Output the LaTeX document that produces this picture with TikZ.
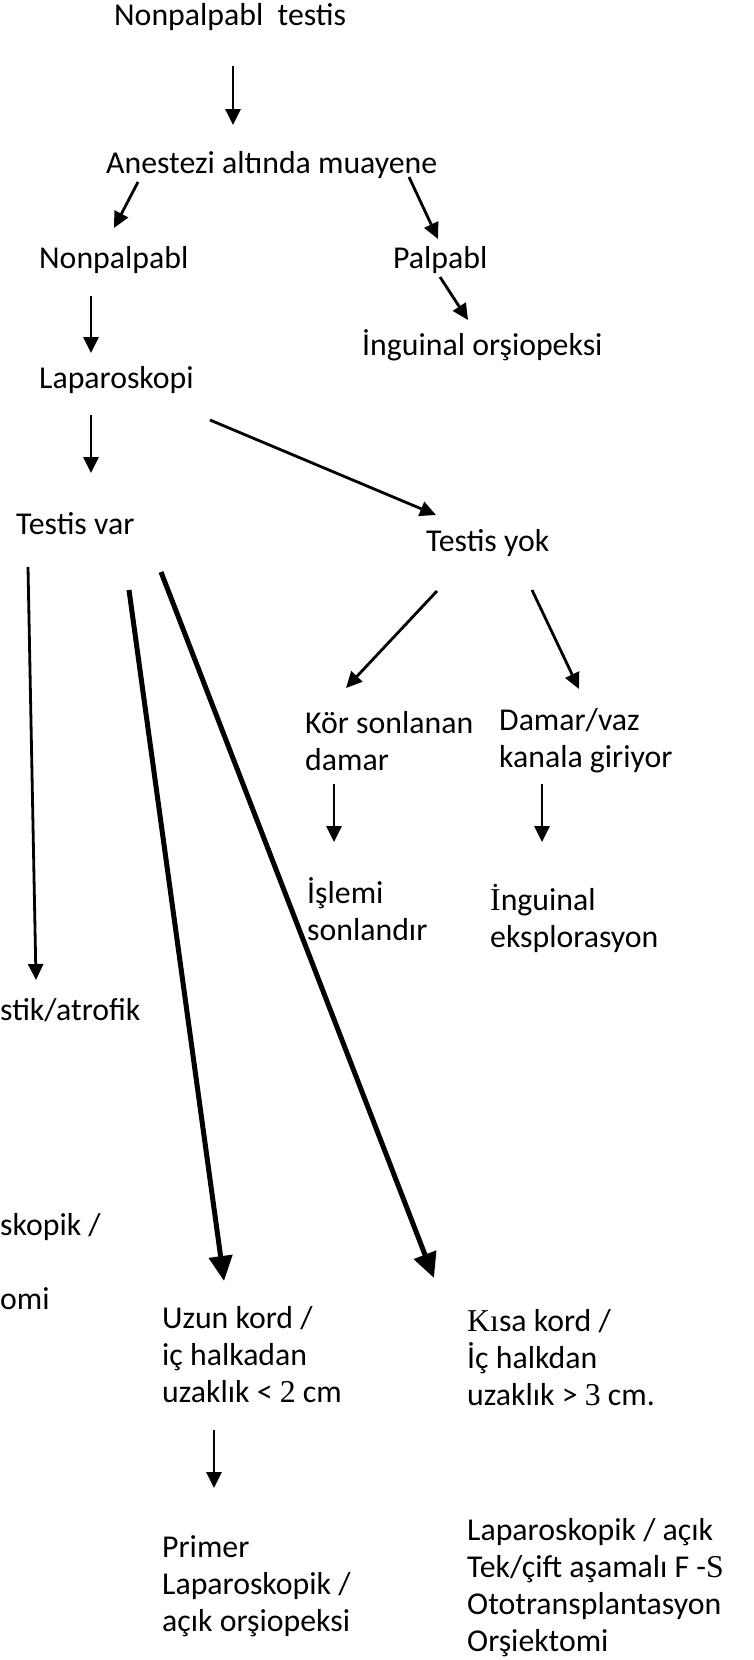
\documentclass[tikz,border=0pt]{standalone}
\usepackage{fontspec}
\setmainfont{Carlito}
\newfontfamily\tnr{Liberation Serif}
\usetikzlibrary{arrows.meta}
\begin{document}
\begin{tikzpicture}[x=1pt,y=-1pt,
  lbl/.style={anchor=west,inner sep=0pt,align=left,font=\fontsize{31.8}{37}\selectfont},
  thinarrow/.style={line width=2.8pt,-{Triangle[length=16pt,width=15pt]}},
  boldarrow/.style={line width=5pt,-{Triangle[length=25pt,width=23pt]}}]
\fill[white] (0,0) rectangle (753,1660);
\useasboundingbox (0,0) rectangle (753,1660);

% texts
\node[lbl] (top) at (114,17) {Nonpalpabl\ \ testis};
\node[lbl] (anes) at (106,165) {Anestezi altında muayene};
\node[lbl] (nonp) at (39,260) {Nonpalpabl};
\node[lbl] (palp) at (393,260) {Palpabl};
\node[lbl] (ingor) at (362,345) {İnguinal orşiopeksi};
\node[lbl] (lapa) at (39,380) {Laparoskopi};
\node[lbl] (tvar) at (16,524) {Testis var};
\node[lbl] (tyok) at (426,543) {Testis yok};
\node[lbl] (kor) at (305,741) {Kör sonlanan\\damar};
\node[lbl] (damar) at (499,741) {Damar/vaz\\kanala giriyor};
\node[lbl] (islemi) at (307,909) {İşlemi\\sonlandır};
\node[lbl] (ingex) at (490,918) {{\tnr İ}nguinal\\eksplorasyon};
\node[lbl] (atro) at (0,1010) {stik/atrofik};
\node[lbl] (skop) at (0,1227) {skopik /};
\node[lbl] (omi) at (0,1299) {omi};
\node[lbl] (uzun) at (162,1355) {Uzun kord /\\iç halkadan\\uzaklık < {\tnr 2} cm};
\node[lbl] (kisa) at (467,1358) {{\tnr Kı}sa kord /\\İç halkdan\\uzaklık > {\tnr 3} cm.};
\node[lbl] (prim) at (162,1586) {Primer\\Laparoskopik /\\açık orşiopeksi};
\node[lbl] (lapac) at (467,1588) {Laparoskopik / açık\\Tek/çift aşamalı F -{\tnr S}\\Ototransplantasyon\\Orşiektomi};

% arrow end points
\coordinate (a1s) at (233,66);   \coordinate (a1e) at (233,125);
\coordinate (a2s) at (138,182);  \coordinate (a2e) at (114,228);
\coordinate (a3s) at (409,177);  \coordinate (a3e) at (438,239);
\coordinate (a4s) at (440,277);  \coordinate (a4e) at (468,320);
\coordinate (a5s) at (91,296);   \coordinate (a5e) at (91,353);
\coordinate (a6s) at (91,415);   \coordinate (a6e) at (91,473);
\coordinate (a7s) at (210,420);  \coordinate (a7e) at (436,515);
\coordinate (a8s) at (437,591);  \coordinate (a8e) at (346,688);
\coordinate (a9s) at (532,590);  \coordinate (a9e) at (579,689);
\coordinate (a10s) at (334,784); \coordinate (a10e) at (334,842);
\coordinate (a11s) at (542,784); \coordinate (a11e) at (542,842);
\coordinate (a12s) at (28,567);  \coordinate (a12e) at (36,980);
\coordinate (a13s) at (129,590); \coordinate (a13e) at (224,1281);
\coordinate (a14s) at (161,572); \coordinate (a14e) at (434,1278);
\coordinate (a15s) at (214,1430);\coordinate (a15e) at (214,1488);

\draw[thinarrow] (a1s) -- (a1e);
\draw[thinarrow] (a2s) -- (a2e);
\draw[thinarrow] (a3s) -- (a3e);
\draw[thinarrow] (a4s) -- (a4e);
\draw[thinarrow] (a5s) -- (a5e);
\draw[thinarrow] (a6s) -- (a6e);
\draw[thinarrow] (a7s) -- (a7e);
\draw[thinarrow] (a8s) -- (a8e);
\draw[thinarrow] (a9s) -- (a9e);
\draw[thinarrow] (a10s) -- (a10e);
\draw[thinarrow] (a11s) -- (a11e);
\draw[thinarrow] (a12s) -- (a12e);
\draw[boldarrow] (a13s) -- (a13e);
\draw[boldarrow] (a14s) -- (a14e);
\draw[thinarrow] (a15s) -- (a15e);
\end{tikzpicture}
\end{document}
